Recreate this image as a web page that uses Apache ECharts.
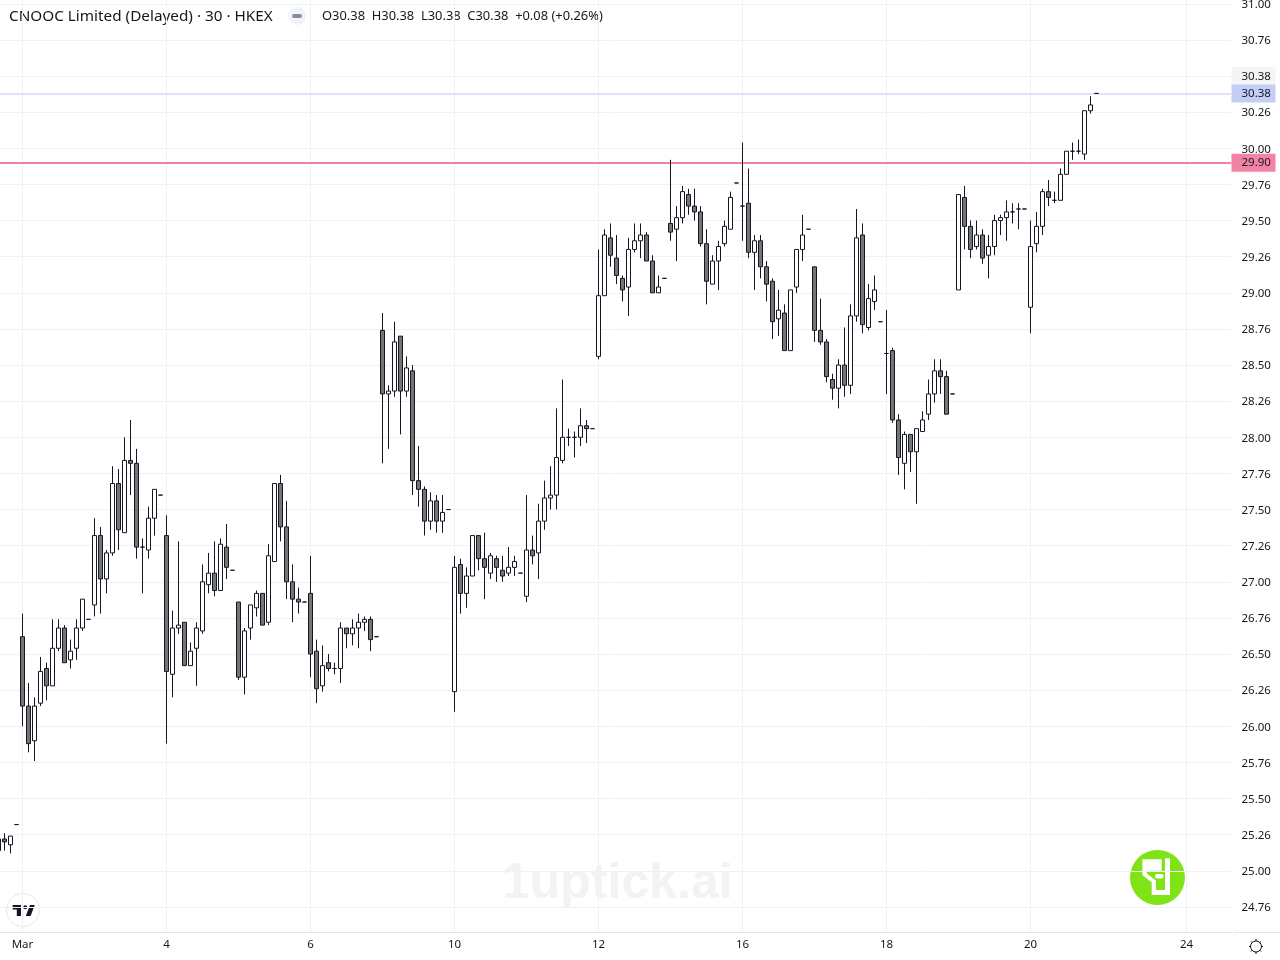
<!DOCTYPE html>
<html>
<head>
<meta charset="utf-8">
<title>CNOOC Limited</title>
<script src="https://cdn.jsdelivr.net/npm/echarts@6/dist/echarts.min.js"></script>
<style>
  html, body { margin: 0; padding: 0; background: #fff; }
  #chart { width: 1280px; height: 960px; }
</style>
</head>
<body>
<div id="chart"></div>
<script>
const opens = [
  25.22,25.22,25.18,25.32,26.62,26.14,25.90,26.16,26.40,26.28,
  26.54,26.68,26.46,26.54,26.68,26.74,26.84,27.32,27.02,27.20,
  27.68,27.34,27.84,27.82,27.24,27.22,27.44,27.60,27.32,26.36,
  26.68,26.72,26.42,26.54,26.66,26.98,27.06,26.94,27.24,27.08,
  26.86,26.34,26.68,26.82,26.92,26.72,27.14,27.68,27.38,27.00,
  26.88,26.86,26.92,26.52,26.28,26.44,26.40,26.40,26.68,26.64,
  26.68,26.72,26.74,26.62,28.74,28.30,28.32,28.70,28.32,28.46,
  27.70,27.64,27.42,27.56,27.42,27.50,26.24,27.12,26.92,27.04,
  27.32,27.16,27.06,27.16,27.08,27.06,27.10,27.06,26.90,27.22,
  27.20,27.42,27.58,27.60,27.84,28.00,28.00,28.00,28.08,28.06,
  28.56,28.98,29.38,29.24,29.10,29.04,29.30,29.36,29.40,29.22,
  29.00,29.10,29.48,29.44,29.52,29.68,29.60,29.56,29.34,29.06,
  29.22,29.34,29.44,29.76,29.60,29.62,29.28,29.36,29.18,29.08,
  28.82,28.86,28.60,29.04,29.30,29.44,29.18,28.74,28.66,28.40,
  28.34,28.50,28.36,28.84,29.40,28.76,28.94,28.80,28.58,28.60,
  28.12,27.82,28.02,27.90,28.04,28.16,28.30,28.46,28.42,28.30,
  29.02,29.66,29.46,29.32,29.40,29.26,29.32,29.50,29.52,29.56,
  29.58,29.58,28.90,29.34,29.46,29.70,29.64,29.64,29.82,29.98,
  29.98,29.96,30.26,30.38
];
const closes = [
  25.14,25.20,25.24,25.32,26.14,25.88,26.14,26.38,26.28,26.54,
  26.68,26.44,26.52,26.68,26.88,26.74,27.32,27.02,27.20,27.68,
  27.36,27.84,27.82,27.24,27.24,27.44,27.64,27.60,26.38,26.68,
  26.70,26.42,26.52,26.68,27.00,27.06,26.94,27.26,27.10,27.08,
  26.34,26.66,26.84,26.92,26.70,27.18,27.68,27.38,27.00,26.88,
  26.86,26.86,26.50,26.26,26.42,26.40,26.40,26.68,26.64,26.68,
  26.72,26.74,26.60,26.62,28.30,28.32,28.66,28.32,28.48,27.70,
  27.64,27.42,27.56,27.42,27.48,27.50,27.10,26.92,27.04,27.32,
  27.16,27.10,27.18,27.10,27.04,27.10,27.14,27.06,27.22,27.18,
  27.42,27.58,27.60,27.86,28.00,28.00,28.00,28.08,28.06,28.06,
  28.98,29.40,29.26,29.12,29.02,29.30,29.36,29.40,29.22,29.00,
  29.04,29.10,29.42,29.52,29.70,29.60,29.56,29.34,29.08,29.22,
  29.32,29.46,29.66,29.76,29.60,29.28,29.36,29.18,29.06,28.80,
  28.88,28.60,29.02,29.30,29.40,29.44,28.74,28.66,28.42,28.34,
  28.50,28.36,28.84,29.38,28.78,28.96,29.02,28.80,28.58,28.12,
  27.86,28.02,27.90,28.06,28.12,28.30,28.46,28.42,28.16,28.30,
  29.68,29.46,29.30,29.40,29.24,29.32,29.50,29.52,29.56,29.56,
  29.58,29.58,29.32,29.46,29.70,29.66,29.64,29.82,29.98,29.98,
  29.98,30.26,30.30,30.38
];
const lows = [
  25.14,25.14,25.12,25.32,26.00,25.82,25.76,26.14,26.18,26.28,
  26.52,26.44,26.40,26.46,26.66,26.74,26.76,26.78,26.92,27.18,
  27.22,27.34,27.60,27.16,26.92,27.16,27.32,27.60,25.88,26.20,
  26.64,26.42,26.42,26.28,26.64,26.92,26.90,26.94,27.02,27.08,
  26.32,26.22,26.60,26.76,26.70,26.70,27.14,27.28,26.88,26.72,
  26.78,26.86,26.34,26.16,26.24,26.38,26.36,26.30,26.54,26.56,
  26.54,26.66,26.52,26.62,27.82,27.92,28.28,28.02,28.28,27.60,
  27.52,27.32,27.36,27.34,27.34,27.50,26.10,26.78,26.82,27.04,
  27.08,26.88,27.02,27.00,27.00,27.04,27.04,27.06,26.86,27.12,
  27.02,27.36,27.50,27.50,27.82,27.94,27.86,27.94,27.96,28.06,
  28.54,28.98,29.18,29.06,28.94,28.84,29.28,29.24,29.22,29.00,
  29.00,29.10,29.36,29.22,29.48,29.54,29.50,29.32,28.92,29.06,
  29.02,29.32,29.44,29.76,29.36,29.24,29.02,29.10,28.94,28.68,
  28.70,28.60,28.60,29.00,29.22,29.44,28.66,28.64,28.38,28.26,
  28.20,28.28,28.30,28.80,28.72,28.74,28.88,28.80,28.30,28.10,
  27.74,27.64,27.76,27.54,28.04,28.12,28.24,28.30,28.16,28.30,
  29.02,29.30,29.24,29.30,29.20,29.10,29.26,29.40,29.36,29.48,
  29.44,29.58,28.72,29.28,29.40,29.60,29.62,29.64,29.82,29.92,
  29.96,29.92,30.24,30.38
];
const highs = [
  25.22,25.26,25.24,25.32,26.78,26.30,26.20,26.48,26.44,26.74,
  26.74,26.70,26.60,26.74,26.88,26.74,27.44,27.38,27.22,27.80,
  27.78,28.00,28.12,27.92,27.30,27.52,27.64,27.60,27.46,26.80,
  27.28,26.72,26.58,26.72,27.12,27.20,27.28,27.30,27.40,27.08,
  26.86,26.68,26.84,26.94,26.92,27.26,27.68,27.74,27.56,27.12,
  26.96,26.86,27.18,26.60,26.56,26.50,26.44,26.72,26.68,26.74,
  26.78,26.76,26.76,26.62,28.86,28.36,28.80,28.70,28.56,28.50,
  27.94,27.66,27.62,27.60,27.60,27.50,27.18,27.16,27.10,27.32,
  27.32,27.34,27.20,27.18,27.18,27.24,27.18,27.06,27.60,27.32,
  27.54,27.70,27.80,28.20,28.40,28.06,28.04,28.20,28.12,28.06,
  29.30,29.44,29.48,29.40,29.12,29.38,29.48,29.48,29.42,29.26,
  29.12,29.10,29.92,29.60,29.74,29.72,29.72,29.60,29.44,29.26,
  29.36,29.50,29.70,29.76,30.04,29.86,29.40,29.40,29.22,29.10,
  29.02,28.92,29.02,29.30,29.54,29.44,29.18,28.96,28.68,28.44,
  28.54,28.76,28.92,29.58,29.48,29.06,29.12,28.80,28.88,28.62,
  28.16,28.04,28.02,28.06,28.18,28.40,28.54,28.54,28.46,28.30,
  29.68,29.74,29.50,29.50,29.44,29.40,29.54,29.54,29.64,29.62,
  29.62,29.58,29.50,29.56,29.72,29.78,29.70,29.86,29.98,30.04,
  30.06,30.26,30.36,30.38
];

// 206 slots on screen, only some of them carry a date label
const slotCount = 206;
const dateSlots = [4, 28, 52, 76, 100, 124, 148, 172, 198];
const dateNames = ['Mar', '4', '6', '10', '12', '16', '18', '20', '24'];

const priceTicks = [
  31, 30.75, 30.5, 30.25, 30, 29.75, 29.5, 29.25, 29, 28.75, 28.5, 28.25, 28,
  27.75, 27.5, 27.25, 27, 26.75, 26.5, 26.25, 26, 25.75, 25.5, 25.25, 25, 24.75
];
const priceNames = [
  '31.00', '30.76', '30.38', '30.26', '30.00', '29.76', '29.50', '29.26', '29.00', '28.76', '28.50', '28.26', '28.00',
  '27.76', '27.50', '27.26', '27.00', '26.76', '26.50', '26.26', '26.00', '25.76', '25.50', '25.26', '25.00', '24.76'
];
const lastPrice = 30.38;
const alertPrice = 29.90;

const categories = [];
for (let i = 0; i < slotCount; i++) {
  const k = dateSlots.indexOf(i);
  categories.push(k >= 0 ? dateNames[k] : 'b' + i);
}
const candles = opens.map((o, i) => [o, closes[i], lows[i], highs[i]]);
const isDateSlot = (i) => dateSlots.indexOf(i) >= 0;

const uiFont = '"Noto Sans", sans-serif';
const ink = '#131722';
const axisFontSize = 11.5;

// badge glyph, points measured in the 3x crop of the badge
const badge = (pts) => pts.map(([a, b]) => [1130 + a / 3, 850 + b / 3]);
const gearTicks = [
  [1256, 939, 1256, 941], [1256, 952, 1256, 954], [1249, 946.5, 1251, 946.5], [1261, 946.5, 1263, 946.5],
  [1251, 941.5, 1252.4, 942.9], [1259.6, 950.1, 1261, 951.5], [1251, 951.5, 1252.4, 950.1], [1259.6, 942.9, 1261, 941.5]
];

const chart = echarts.init(document.getElementById('chart'));
chart.setOption({
  animation: false,
  backgroundColor: '#ffffff',
  grid: { left: -4.5, top: 0, width: 1236, height: 932, outerBoundsMode: 'none' },
  xAxis: {
    type: 'category',
    data: categories,
    boundaryGap: true,
    axisLine: { show: true, lineStyle: { color: '#e0e3eb', width: 1 } },
    axisTick: { show: false, alignWithLabel: true },
    axisLabel: {
      interval: (i) => isDateSlot(i),
      color: ink,
      fontFamily: uiFont,
      fontSize: axisFontSize,
      margin: 7,
      formatter: (v) => (dateNames.indexOf(v) >= 0 ? v : '')
    },
    splitLine: {
      show: true,
      alignWithLabel: true,
      interval: (i) => isDateSlot(i),
      lineStyle: { color: '#f0f1f4', width: 1 }
    }
  },
  yAxis: {
    type: 'value',
    position: 'right',
    min: 24.5765,
    max: 31.0263,
    scale: true,
    axisLine: { show: false },
    axisTick: { show: false, customValues: priceTicks },
    splitLine: { show: true, lineStyle: { color: '#f0f1f4', width: 1 } },
    axisLabel: {
      customValues: priceTicks,
      margin: 0,
      color: ink,
      fontFamily: uiFont,
      fontSize: axisFontSize,
      align: 'left',
      formatter: (v) => {
        const k = priceTicks.indexOf(v);
        const name = k >= 0 ? priceNames[k] : '';
        return name === '30.38' ? '{hi|' + name + '}' : '{n|' + name + '}';
      },
      rich: {
        n: { padding: [2, 0, 0, 10], fontFamily: uiFont, fontSize: axisFontSize, color: ink },
        hi: {
          padding: [4, 0, 2, 10], width: 34, height: 12,
          backgroundColor: '#f5f5f5', fontFamily: uiFont, fontSize: axisFontSize, color: ink
        }
      }
    }
  },
  series: [{
    type: 'candlestick',
    z: 3,
    barWidth: 4,
    data: candles,
    itemStyle: {
      color: '#ffffff',
      color0: '#757575',
      borderColor: ink,
      borderColor0: ink,
      borderColorDoji: ink,
      borderWidth: 1
    },
    markLine: {
      z: 1,
      silent: true,
      symbol: 'none',
      animation: false,
      data: [
        {
          yAxis: lastPrice,
          lineStyle: { color: '#bcc8f3', type: [1, 1], width: 2 },
          label: {
            position: 'end', distance: 0, formatter: lastPrice.toFixed(2),
            backgroundColor: '#c3cdf5', color: ink, fontFamily: uiFont, fontSize: axisFontSize,
            padding: [4, 0, 2, 10], width: 34, height: 12, lineHeight: 12
          }
        },
        {
          yAxis: alertPrice,
          lineStyle: { color: '#ee82a2', type: 'solid', width: 2 },
          label: {
            position: 'end', distance: 0, formatter: alertPrice.toFixed(2),
            backgroundColor: '#f283a5', color: ink, fontFamily: uiFont, fontSize: axisFontSize,
            padding: [4, 0, 2, 10], width: 34, height: 12, lineHeight: 12
          }
        }
      ]
    }
  }],
  graphic: [
    { type: 'text', x: 9, y: 16.5, style: { text: 'CNOOC Limited (Delayed) · 30 · HKEX', fill: ink, font: '15.3px ' + uiFont, verticalAlign: 'middle' } },
    { type: 'circle', shape: { cx: 297, cy: 16, r: 9 }, style: { fill: '#f0f3fa' } },
    { type: 'rect', shape: { x: 292, y: 14, width: 10, height: 4, r: 2 }, style: { fill: '#8a8e99' } },
    { type: 'text', x: 322, y: 16.5, style: { text: 'O30.38  H30.38  L30.38  C30.38  +0.08 (+0.26%)', fill: ink, font: '12.9px ' + uiFont, verticalAlign: 'middle' } },
    { type: 'text', x: 502, y: 884, style: { text: '1uptick.ai', fill: '#f3f3f3', font: 'bold 50px "Liberation Sans", sans-serif', verticalAlign: 'middle' } },
    // axis rule under the price scale
    { type: 'line', shape: { x1: 1233, y1: 932.5, x2: 1280, y2: 932.5 }, style: { stroke: '#e0e3eb', lineWidth: 1 } },
    // green badge
    { type: 'circle', shape: { cx: 1157.5, cy: 877.5, r: 27.5 }, style: { fill: '#7fe317' } },
    { type: 'polygon', shape: { points: badge([[37, 28], [95, 28], [95, 62], [105, 62], [105, 25], [120, 25], [120, 135], [65, 135], [65, 97], [37, 75]]) }, style: { fill: '#ffffff' } },
    { type: 'polygon', shape: { points: badge([[50, 62], [105, 62], [105, 120], [78, 120], [78, 92], [50, 70]]) }, style: { fill: '#7fe317' } },
    { type: 'rect', shape: { x: 1155, y: 874, width: 8.5, height: 4.5, r: 2 }, style: { fill: '#ffffff' } },
    // tv logo
    { type: 'circle', shape: { cx: 23, cy: 910, r: 16.5 }, style: { fill: '#ffffff', stroke: '#e8e8ea', lineWidth: 1 } },
    { type: 'polygon', shape: { points: [[12.7, 905], [21, 905], [21, 916], [16.8, 916], [16.8, 909.4], [12.7, 909.4]] }, style: { fill: ink } },
    { type: 'polygon', shape: { points: [[30.6, 916], [25.8, 916], [30, 905], [34.8, 905]] }, style: { fill: ink } },
    { type: 'circle', shape: { cx: 25.2, cy: 907.2, r: 2 }, style: { fill: ink } },
    // settings gear
    { type: 'circle', shape: { cx: 1256, cy: 946.5, r: 5.5 }, style: { fill: 'none', stroke: ink, lineWidth: 1 } }
  ].concat(gearTicks.map((t) => ({
    type: 'line',
    shape: { x1: t[0], y1: t[1], x2: t[2], y2: t[3] },
    style: { stroke: ink, lineWidth: 1 }
  })))
});
</script>
</body>
</html>
